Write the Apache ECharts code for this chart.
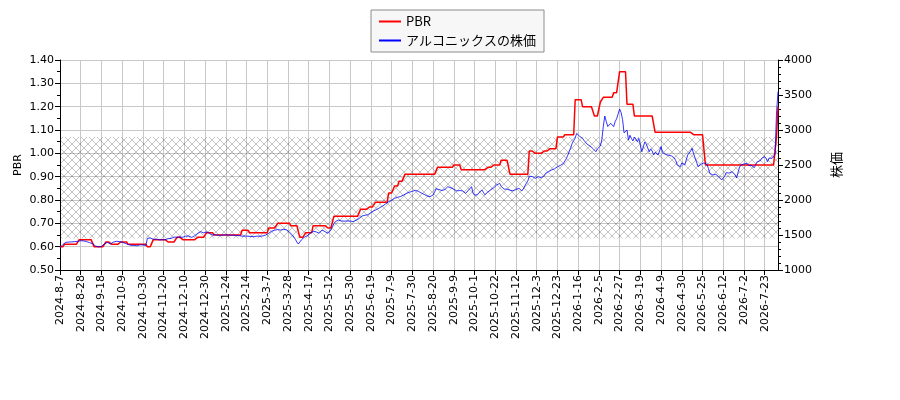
<!DOCTYPE html>
<html>
<head>
<meta charset="utf-8">
<script src="https://cdn.jsdelivr.net/npm/echarts/dist/echarts.min.js"></script>
<style>
    html, body { margin: 0; padding: 0; background: #fff; }
    #box1 { width: 900px; height: 400px; }
</style>
</head>
<body>
<div id="box1"></div>
<script>
// X軸の目盛ラベル（14営業日ごと）
var tickLabels = [
    "2024-8-7", "2024-8-28", "2024-9-18", "2024-10-9", "2024-10-30", "2024-11-20", "2024-12-10",
    "2024-12-30", "2025-1-24", "2025-2-14", "2025-3-7", "2025-3-28", "2025-4-17", "2025-5-12",
    "2025-5-30", "2025-6-19", "2025-7-9", "2025-7-30", "2025-8-20", "2025-9-9", "2025-10-1",
    "2025-10-22", "2025-11-12", "2025-12-3", "2025-12-23", "2026-1-16", "2026-2-5", "2026-2-27",
    "2026-3-19", "2026-4-9", "2026-4-30", "2026-5-25", "2026-6-12", "2026-7-2", "2026-7-23"
]
var tickStep = 14
var dayCount = 486

// PBR（階段状）：水準と継続日数
var pbrLevel = [
    0.60, 0.61, 0.63, 0.60, 0.62, 0.61, 0.62, 0.61, 0.60, 0.63, 0.62, 0.64, 0.63, 0.64, 0.66,
    0.65, 0.67, 0.66, 0.68, 0.70, 0.69, 0.64, 0.66, 0.69, 0.68, 0.73, 0.76, 0.77, 0.79, 0.83,
    0.86, 0.88, 0.91, 0.94, 0.95, 0.93, 0.94, 0.95, 0.97, 0.91, 1.01, 1.00, 1.01, 1.02, 1.07,
    1.08, 1.23, 1.20, 1.16, 1.22, 1.24, 1.26, 1.35, 1.21, 1.16, 1.09, 1.08, 0.95, 1.07, 1.20
]
var pbrDays = [
    3, 10, 10, 8, 4, 6, 5, 13, 4, 10, 6, 4, 10, 6, 5,
    19, 5, 13, 6, 9, 6, 4, 5, 10, 4, 18, 6, 4, 9, 4,
    3, 4, 22, 11, 5, 18, 4, 5, 6, 13, 4, 6, 4, 5, 5,
    7, 5, 8, 4, 2, 7, 4, 5, 5, 14, 26, 8, 48, 1, 1
]

// アルコニックスの株価（日次）
var price = [
    1320, 1340, 1365, 1381, 1395, 1405, 1400, 1410, 1402, 1398, 1405, 1400, 1410, 1414,
    1418, 1410, 1415, 1412, 1405, 1398, 1390, 1381, 1378, 1360, 1343, 1335, 1330, 1333,
    1336, 1357, 1375, 1385, 1395, 1405, 1372, 1385, 1398, 1405, 1410, 1402, 1406, 1396,
    1398, 1390, 1380, 1371, 1365, 1358, 1352, 1348, 1352, 1333, 1345, 1357, 1360, 1355,
    1358, 1345, 1350, 1452, 1462, 1458, 1465, 1440, 1436, 1442, 1438, 1430, 1426, 1432,
    1428, 1432, 1445, 1448, 1442, 1450, 1476, 1470, 1466, 1468, 1462, 1470, 1465, 1468,
    1486, 1484, 1490, 1485, 1468, 1465, 1470, 1490, 1510, 1524, 1535, 1548, 1540, 1530,
    1538, 1545, 1542, 1524, 1510, 1500, 1498, 1505, 1500, 1495, 1502, 1498, 1505, 1500,
    1497, 1503, 1500, 1496, 1502, 1498, 1500, 1495, 1498, 1490, 1486, 1484, 1488, 1485,
    1486, 1483, 1480, 1478, 1482, 1476, 1480, 1484, 1478, 1482, 1480, 1486, 1490, 1500,
    1510, 1524, 1540, 1555, 1571, 1568, 1574, 1578, 1581, 1570, 1560, 1580, 1595, 1575,
    1560, 1540, 1520, 1500, 1470, 1438, 1400, 1371, 1400, 1429, 1450, 1467, 1480, 1490,
    1500, 1525, 1548, 1552, 1557, 1545, 1535, 1524, 1550, 1571, 1560, 1548, 1535, 1524,
    1550, 1571, 1620, 1660, 1690, 1705, 1714, 1708, 1700, 1705, 1698, 1690, 1700, 1705,
    1700, 1695, 1690, 1705, 1712, 1720, 1735, 1755, 1771, 1775, 1782, 1786, 1790, 1810,
    1820, 1835, 1845, 1857, 1865, 1880, 1890, 1905, 1915, 1930, 1945, 1960, 1976, 1985,
    1995, 2010, 2024, 2030, 2038, 2045, 2050, 2057, 2070, 2082, 2095, 2100, 2110, 2119,
    2125, 2130, 2138, 2143, 2125, 2105, 2100, 2095, 2080, 2065, 2057, 2050, 2048, 2060,
    2071, 2110, 2160, 2167, 2150, 2143, 2135, 2129, 2150, 2175, 2190, 2185, 2175, 2167,
    2155, 2143, 2130, 2119, 2135, 2150, 2130, 2110, 2095, 2120, 2143, 2170, 2190, 2100,
    2070, 2048, 2075, 2105, 2125, 2143, 2110, 2075, 2095, 2115, 2130, 2145, 2152, 2175,
    2200, 2215, 2230, 2238, 2195, 2170, 2155, 2145, 2155, 2167, 2140, 2122, 2130, 2140,
    2150, 2160, 2167, 2140, 2130, 2160, 2200, 2240, 2270, 2340, 2367, 2335, 2325, 2310,
    2320, 2333, 2325, 2315, 2310, 2345, 2381, 2390, 2405, 2410, 2428, 2435, 2445, 2452,
    2475, 2500, 2495, 2505, 2520, 2548, 2590, 2640, 2690, 2750, 2810, 2850, 2885, 2952,
    2935, 2910, 2895, 2881, 2850, 2824, 2800, 2786, 2770, 2755, 2735, 2720, 2690, 2730,
    2750, 2771, 2860, 3050, 3200, 3120, 3050, 3070, 3095, 3070, 3048, 3120, 3160, 3230,
    3300, 3250, 3150, 2960, 2940, 3000, 2857, 2925, 2880, 2843, 2900, 2870, 2833, 2880,
    2900, 2690, 2760, 2830, 2800, 2790, 2690, 2730, 2700, 2643, 2680, 2670, 2643, 2700,
    2762, 2680, 2660, 2650, 2645, 2640, 2619, 2630, 2643, 2600, 2560, 2500, 2490, 2476,
    2530, 2548, 2500, 2570, 2643, 2670, 2700, 2738, 2660, 2600, 2540, 2476, 2490, 2510,
    2538, 2530, 2524, 2510, 2450, 2381, 2370, 2357, 2362, 2367, 2340, 2330, 2310, 2286,
    2290, 2340, 2390, 2400, 2385, 2395, 2405, 2390, 2360, 2315, 2390, 2470, 2500, 2520,
    2515, 2500, 2524, 2495, 2478, 2495, 2500, 2462, 2510, 2548, 2540, 2560, 2595, 2605,
    2619, 2590, 2548, 2600, 2619, 2595, 2620, 2650, 3243, 3548
]

// 網掛け帯（PBR軸の範囲）
var bandLow = 0.635
var bandHigh = 1.07


/***************图表区域******************/

// カテゴリ（目盛位置のみラベルを持つ）
var categories = []
for (var i = 0; i < dayCount; i++) {
    categories.push(i % tickStep === 0 ? tickLabels[i / tickStep] : "")
}

// PBRを日次に展開
var pbr = []
for (var k = 0; k < pbrLevel.length; k++) {
    for (var d = 0; d < pbrDays[k]; d++) {
        pbr.push(pbrLevel[k])
    }
}

// 斜め格子の模様
var hatch = document.createElement("canvas")
hatch.width = 8
hatch.height = 8
var ctx = hatch.getContext("2d")
ctx.strokeStyle = "rgba(0,0,0,0.26)"
ctx.lineWidth = 0.9
ctx.beginPath()
ctx.moveTo(-1, -1); ctx.lineTo(9, 9)
ctx.moveTo(-1, 9); ctx.lineTo(9, -1)
ctx.stroke()

var font = "DejaVu Sans"
var jpFont = "'Noto Sans CJK JP', 'DejaVu Sans'"

var MyEcharts1 = echarts.init(document.getElementById("box1"), null, { renderer: "canvas" })

var option1 = {
    animation: false,
    backgroundColor: "#fff",

    // 凡例
    legend: {
        orient: "vertical",
        left: 371,
        top: 10,
        padding: [5, 8, 5, 8],
        itemGap: 6,
        itemWidth: 22,
        itemHeight: 2,
        icon: "rect",
        backgroundColor: "#f7f7f7",
        borderColor: "#8c8c8c",
        borderWidth: 1,
        borderRadius: 0,
        textStyle: { fontFamily: jpFont, fontSize: 13, color: "#000" },
        data: ["PBR", "アルコニックスの株価"]
    },

    grid: {
        left: 60,
        right: 122,
        top: 60,
        bottom: 130
    },

    xAxis: {
        type: "category",
        data: categories,
        boundaryGap: false,
        axisLine: { lineStyle: { color: "#000", width: 1 } },
        axisTick: { show: true, interval: tickStep - 1, length: 5, lineStyle: { color: "#000" } },
        axisLabel: {
            interval: tickStep - 1,
            rotate: 90,
            margin: 5,
            fontFamily: font,
            fontSize: 11,
            color: "#000"
        },
        splitLine: { show: true, interval: tickStep - 1, lineStyle: { color: "#c8c8c8", width: 1 } }
    },

    yAxis: [
        {
            type: "value",
            min: 0.5,
            max: 1.4,
            interval: 0.1,
            name: "PBR",
            nameLocation: "middle",
            nameRotate: 90,
            nameGap: 36,
            nameMoveOverlap: false,
            nameTextStyle: { fontFamily: font, fontSize: 11, color: "#000" },
            axisLine: { show: true, lineStyle: { color: "#000" } },
            axisTick: { show: true, length: 5, lineStyle: { color: "#000" } },
            minorTick: { show: true, splitNumber: 2, length: 3, lineStyle: { color: "#000" } },
            axisLabel: {
                fontFamily: font, fontSize: 11, color: "#000", margin: 6,
                formatter: function (v) { return v.toFixed(2) }
            },
            splitLine: { show: true, lineStyle: { color: "#c8c8c8", width: 1 } }
        },
        {
            type: "value",
            min: 1000,
            max: 4000,
            interval: 500,
            position: "right",
            name: "株価",
            nameLocation: "middle",
            nameRotate: 90,
            nameGap: 52,
            nameMoveOverlap: false,
            nameTextStyle: { fontFamily: jpFont, fontSize: 13, color: "#000" },
            axisLine: { show: true, lineStyle: { color: "#000" } },
            axisTick: { show: true, length: 5, lineStyle: { color: "#000" } },
            minorTick: { show: true, splitNumber: 5, length: 3, lineStyle: { color: "#000" } },
            axisLabel: {
                fontFamily: font, fontSize: 11, color: "#000", margin: 6,
                formatter: function (v) { return String(v) }
            },
            splitLine: { show: false }
        }
    ],

    series: [
        {
            name: "PBR",
            type: "line",
            yAxisIndex: 0,
            data: pbr,
            showSymbol: false,
            symbol: "none",
            color: "#ff0000",
            lineStyle: { color: "#ff0000", width: 1.5 },
            z: 3,
            markArea: {
                silent: true,
                label: { show: false },
                itemStyle: { color: { image: hatch, repeat: "repeat" } },
                data: [[{ yAxis: bandLow }, { yAxis: bandHigh }]]
            }
        },
        {
            name: "アルコニックスの株価",
            type: "line",
            yAxisIndex: 1,
            data: price,
            showSymbol: false,
            symbol: "none",
            color: "#0000ff",
            lineStyle: { color: "#0000ff", width: 0.8 },
            z: 4
        }
    ]
}

MyEcharts1.setOption(option1)

/***************图表区域******************/
</script>
</body>
</html>
